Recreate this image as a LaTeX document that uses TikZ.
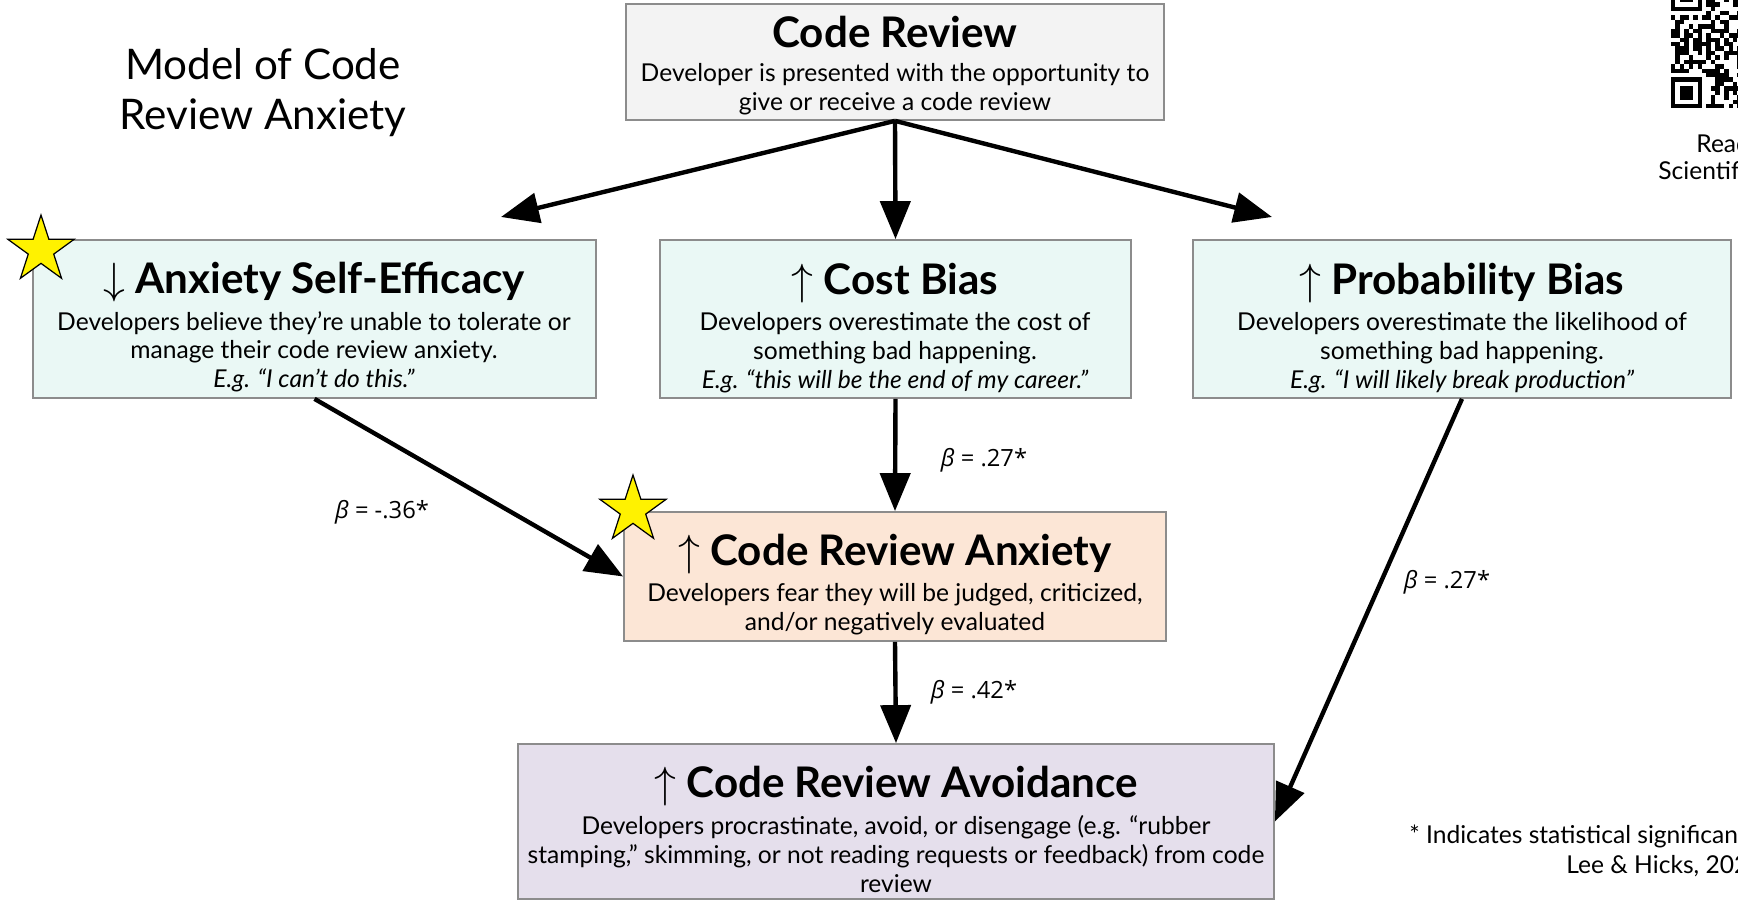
\documentclass[tikz,border=0pt]{standalone}
\usepackage{fontspec}
\setmainfont{Lato}
\newfontfamily\betafont{Open Sans}
\usetikzlibrary{arrows.meta,shapes.geometric,fit}

\definecolor{crgray}{HTML}{F3F3F3}
\definecolor{mint}{HTML}{EAF8F5}
\definecolor{peach}{HTML}{FCE6D6}
\definecolor{lilac}{HTML}{E5DFEC}
\definecolor{edge}{HTML}{8C8C8C}

\tikzset{
	box/.style={draw=edge, line width=1pt, inner sep=0pt},
	head/.style={anchor=base, inner sep=0pt, font=\fontsize{24}{28}\selectfont\bfseries},
	body/.style={anchor=north, align=center, inner sep=0pt, font=\fontsize{14}{16.4}\selectfont},
	link/.style={line width=2.5pt, -{Triangle[length=7.6mm,width=6mm]}},
	coef/.style={inner sep=0pt, font=\betafont\fontsize{13.5}{15}\selectfont},
	badge/.style={star, star points=5, star point ratio=2.618, draw=black, line width=0.7pt, fill=yellow, inner sep=0pt, minimum size=14mm},
	note/.style={anchor=west, inner sep=0pt, font=\fontsize{14}{16}\selectfont},
}
\newcommand{\arrup}{{\fontsize{30}{30}\selectfont$\uparrow$}}
\newcommand{\arrdown}{{\fontsize{30}{30}\selectfont$\downarrow$}}

\begin{document}
\begin{tikzpicture}[x=0.2mm,y=-0.2mm]
	\useasboundingbox (0,0) rectangle (1738,901);
	\clip (0,0) rectangle (1738,901);
	% title
	\node[anchor=north, align=center, inner sep=0pt, font=\fontsize{24}{28.4}\selectfont] (title) at (263,48) {Model of Code\\Review Anxiety};
	% qr code, cut by the page edge
	\pgfmathsetseed{11}
	\foreach \c in {0,...,15}{
		\foreach \r in {0,...,28}{
			\pgfmathtruncatemacro\on{(rnd<0.5)*(1-(\c<8)*((\r<8)+(\r>20)))}
			\ifnum\on>0 \fill (1671+\c*4.43,-20+\r*4.43) rectangle ++(4.43,4.43);\fi
		}
	}
	\foreach \y in {-20,77.5}{
		\fill (1671,\y) rectangle ++(31,31);
		\fill[white] (1675.43,\y+4.43) rectangle ++(22.15,22.15);
		\fill (1679.86,\y+8.86) rectangle ++(13.29,13.29);
	}
	\node[note] (qr1) at (1696,144) {Read the};
	\node[note] (qr2) at (1658,173) {Scientific Paper};
	% boxes
	\node[box, fill=crgray, fit={(626,4) (1164,120)}] (cr) {};
	\node[box, fill=mint, fit={(33,240) (596,398)}] (se) {};
	\node[box, fill=mint, fit={(660,240) (1131,398)}] (cb) {};
	\node[box, fill=mint, fit={(1193,240) (1731,398)}] (pb) {};
	\node[box, fill=peach, fit={(624,512) (1166,641)}] (cra) {};
	\node[box, fill=lilac, fit={(518,744) (1274,899)}] (cav) {};
	% texts in the boxes
	\node[head] (crT) at (895,48) {Code Review};
	\node[body] (crB) at (895,63) {Developer is presented with the opportunity to\\give or receive a code review};
	\node[head] (seT) at (314,294) {\arrdown\ Anxiety Self-Efficacy};
	\node[body] (seB) at (314,311) {Developers believe they’re unable to tolerate or\\manage their code review anxiety.\\\textit{E.g. “I can’t do this.”}};
	\node[head] (cbT) at (895,295) {\arrup\ Cost Bias};
	\node[body] (cbB) at (895,312) {Developers overestimate the cost of\\something bad happening.\\\textit{E.g. “this will be the end of my career.”}};
	\node[head] (pbT) at (1462,295) {\arrup\ Probability Bias};
	\node[body] (pbB) at (1462,312) {Developers overestimate the likelihood of\\something bad happening.\\\textit{E.g. “I will likely break production”}};
	\node[head] (craT) at (895,566) {\arrup\ Code Review Anxiety};
	\node[body] (craB) at (895,583) {Developers fear they will be judged, criticized,\\and/or negatively evaluated};
	\node[head] (cavT) at (896,798) {\arrup\ Code Review Avoidance};
	\node[body] (cavB) at (896,815) {Developers procrastinate, avoid, or disengage (e.g. “rubber\\stamping,” skimming, or not reading requests or feedback) from code\\review};
	% arrows
	\coordinate (seIn) at (501,217);
	\coordinate (pbIn) at (1272,217);
	\draw[link] (cr.south) -- (seIn);
	\draw[link] (cr.south) -- (cb.north);
	\draw[link] (cr.south) -- (pbIn);
	\draw[link] (se.south) -- (cra.west);
	\draw[link] (cb.south) -- (cra.north);
	\draw[link] (pb.south) -- (cav.east);
	\draw[link] (cra.south) -- (cav.north);
	\node[coef] (b1) at (382,512) {\textit{β} = -.36*};
	\node[coef] (b2) at (984,460) {\textit{β} = .27*};
	\node[coef] (b3) at (1447,582) {\textit{β} = .27*};
	\node[coef] (b4) at (974,692) {\textit{β} = .42*};
	% stars
	\node[badge] (star1) at (41,250) {};
	\node[badge] (star2) at (633,510) {};
	% footnote
	\node[note] (fn1) at (1409,836) {* Indicates statistical significance};
	\node[note] (fn2) at (1566,866) {Lee \& Hicks, 2024};
\end{tikzpicture}
\end{document}
